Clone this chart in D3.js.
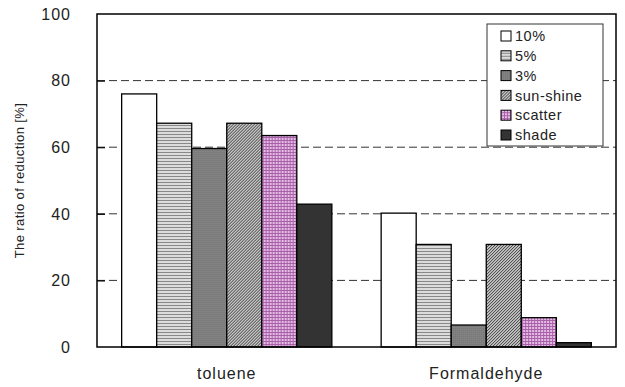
<!DOCTYPE html>
<html>
<head>
<meta charset="utf-8">
<script src="https://cdn.jsdelivr.net/npm/d3@7/dist/d3.min.js"></script>
<style>
  html, body { margin: 0; padding: 0; background: #fff; }
  svg { display: block; font-family: "Liberation Sans", Arial, sans-serif; }
</style>
</head>
<body>
<svg id="chart" width="625" height="387"></svg>
<script>
// Categories and series
const categories = ["toluene", "Formaldehyde"];
const seriesNames = ["10%", "5%", "3%", "sun-shine", "scatter", "shade"];
const values10 = [76, 40.2];
const values5 = [67.2, 30.8];
const values3 = [59.6, 6.6];
const valuesSun = [67.2, 30.8];
const valuesScatter = [63.5, 8.8];
const valuesShade = [42.9, 1.3];
const yTicks = [0, 20, 40, 60, 80, 100];

const seriesValues = [values10, values5, values3, valuesSun, valuesScatter, valuesShade];
const fills = ["#ffffff", "url(#p5)", "url(#p3)", "url(#pSun)", "url(#pScatter)", "#333333"];

const svg = d3.select("#chart");
const margin = { top: 14, right: 9, bottom: 40, left: 97 };
const W = 625 - margin.left - margin.right;
const H = 387 - margin.top - margin.bottom;

// Fill patterns
const defs = svg.append("defs");
const p5 = defs.append("pattern").attr("id", "p5").attr("patternUnits", "userSpaceOnUse")
  .attr("width", 4).attr("height", 3);
p5.append("rect").attr("width", 4).attr("height", 3).attr("fill", "#dcdcdc");
p5.append("rect").attr("y", 0).attr("width", 4).attr("height", 1).attr("fill", "#888888");

const p3 = defs.append("pattern").attr("id", "p3").attr("patternUnits", "userSpaceOnUse")
  .attr("width", 2).attr("height", 2);
p3.append("rect").attr("width", 2).attr("height", 2).attr("fill", "#828282");
p3.append("rect").attr("width", 1).attr("height", 1).attr("fill", "#747474");

const pSun = defs.append("pattern").attr("id", "pSun").attr("patternUnits", "userSpaceOnUse")
  .attr("width", 3).attr("height", 3);
pSun.append("rect").attr("width", 3).attr("height", 3).attr("fill", "#ffffff");
pSun.append("path").attr("d", "M-1,1 L1,-1 M0,3 L3,0 M2,4 L4,2")
  .attr("stroke", "#333").attr("stroke-width", 1.1);

const pSc = defs.append("pattern").attr("id", "pScatter").attr("patternUnits", "userSpaceOnUse")
  .attr("width", 3).attr("height", 3);
pSc.append("rect").attr("width", 3).attr("height", 3).attr("fill", "#e4bce4");
pSc.append("rect").attr("width", 3).attr("height", 1).attr("fill", "#a860a8");
pSc.append("rect").attr("width", 1).attr("height", 3).attr("fill", "#a860a8");

const g = svg.append("g").attr("transform", `translate(${margin.left},${margin.top})`);

const x0 = d3.scaleBand().domain(categories).range([0, W])
  .paddingInner(0.19).paddingOuter(0.095);
const x1 = d3.scaleBand().domain(seriesNames).range([0, x0.bandwidth()]).padding(0);
const y = d3.scaleLinear().domain([0, 100]).range([H, 0]);

// Dashed gridlines
g.append("g").selectAll("line").data(yTicks.filter(t => t > 0 && t < 100)).join("line")
  .attr("x1", 0).attr("x2", W)
  .attr("y1", d => y(d)).attr("y2", d => y(d))
  .attr("stroke", "#333").attr("stroke-width", 1).attr("stroke-dasharray", "8,4");

// Bars
const groups = g.append("g").selectAll("g").data(categories).join("g")
  .attr("transform", d => `translate(${x0(d)},0)`);
groups.selectAll("rect")
  .data((c, ci) => seriesNames.map((s, si) => ({ s, si, v: seriesValues[si][ci] })))
  .join("rect")
  .attr("x", d => x1(d.s))
  .attr("width", x1.bandwidth())
  .attr("y", d => y(d.v))
  .attr("height", d => H - y(d.v))
  .attr("fill", d => fills[d.si])
  .attr("stroke", "#000").attr("stroke-width", 1.3);

// Frame
g.append("rect").attr("width", W).attr("height", H)
  .attr("fill", "none").attr("stroke", "#000").attr("stroke-width", 1.5);

// Y axis with inward ticks
const yAxis = g.append("g").call(d3.axisRight(y).tickValues(yTicks).tickSize(8).tickFormat(""));
yAxis.select(".domain").remove();
yAxis.selectAll(".tick line").attr("stroke", "#000").attr("stroke-width", 1.2)
  .filter(d => d === 0 || d === 100).remove();

g.append("g").selectAll("text").data(yTicks).join("text")
  .attr("x", -26).attr("y", d => y(d)).attr("dy", "0.36em")
  .attr("text-anchor", "end").attr("font-size", 16).attr("letter-spacing", 1)
  .attr("fill", "#222").text(d => d);

// Category labels
const xAxis = g.append("g").attr("transform", `translate(0,${H})`)
  .call(d3.axisBottom(x0).tickSize(0).tickPadding(21));
xAxis.select(".domain").remove();
xAxis.selectAll("text").attr("font-size", 16).attr("letter-spacing", 1)
  .attr("fill", "#222").attr("font-family", "Liberation Sans, Arial, sans-serif");

// Y axis title
svg.append("text")
  .attr("transform", `translate(24,${margin.top + H / 2}) rotate(-90)`)
  .attr("text-anchor", "middle").attr("font-size", 13).attr("letter-spacing", 0.4)
  .attr("fill", "#222").text("The ratio of reduction [%]");

// Legend
const lg = svg.append("g").attr("transform", "translate(487,24)");
lg.append("rect").attr("width", 116).attr("height", 122)
  .attr("fill", "#fff").attr("stroke", "#333").attr("stroke-width", 1);
const items = lg.selectAll("g.item").data(seriesNames).join("g")
  .attr("class", "item").attr("transform", (d, i) => `translate(14,${12 + i * 19.8})`);
items.append("rect").attr("x", 0).attr("y", -5).attr("width", 10).attr("height", 10)
  .attr("fill", (d, i) => fills[i]).attr("stroke", "#000").attr("stroke-width", 1);
items.append("text").attr("x", 14).attr("dy", "0.36em").attr("font-size", 14.5)
  .attr("letter-spacing", 0.5).attr("fill", "#222").text(d => d);
</script>
</body>
</html>
